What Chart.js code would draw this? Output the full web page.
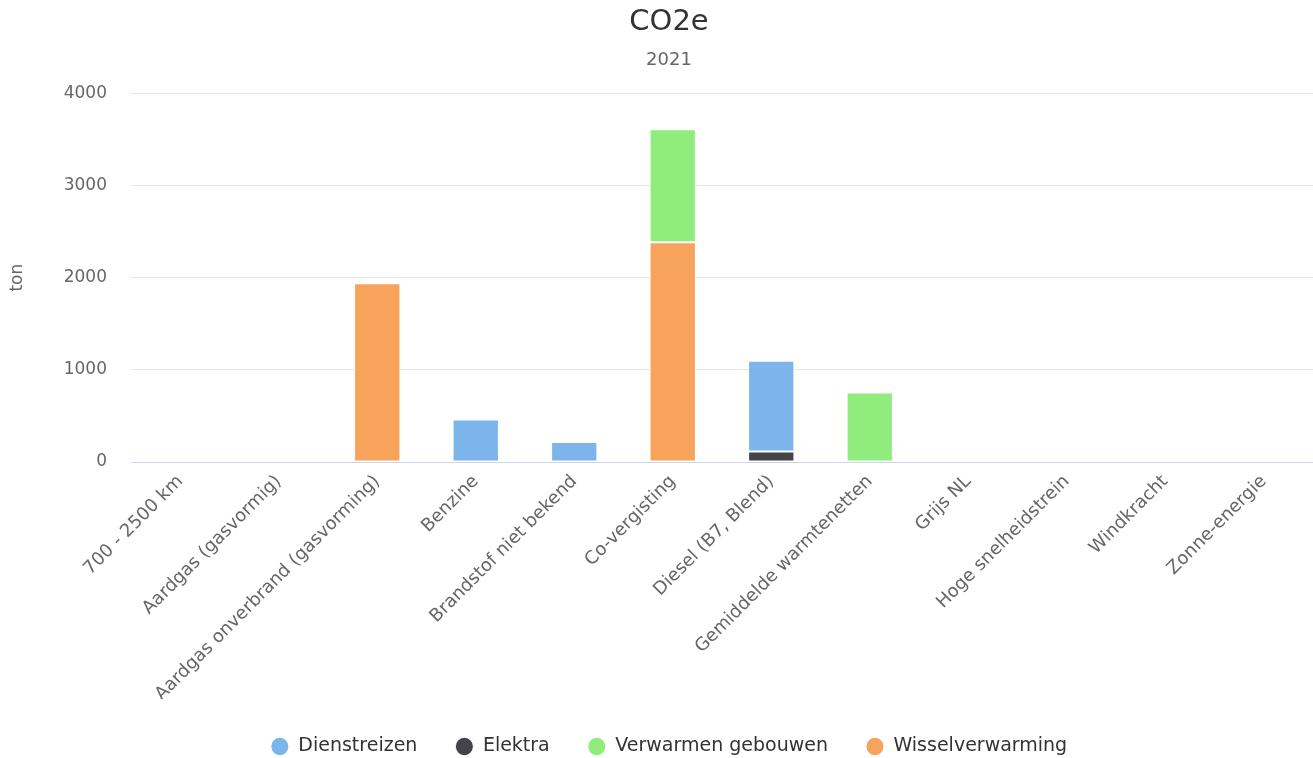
<!DOCTYPE html>
<html>
<head>
<meta charset="utf-8">
<script src="https://cdn.jsdelivr.net/npm/chart.js@4/dist/chart.umd.min.js"></script>
<style>
  html, body { margin: 0; padding: 0; background: #ffffff; }
  #wrap { width: 1313px; height: 758px; }
</style>
</head>
<body>
<div id="wrap"><canvas id="chart" width="1313" height="758"></canvas></div>
<script>
// Energy sources / fuels on the x axis
const categories = [
  '700 - 2500 km',
  'Aardgas (gasvormig)',
  'Aardgas onverbrand (gasvorming)',
  'Benzine',
  'Brandstof niet bekend',
  'Co-vergisting',
  'Diesel (B7, Blend)',
  'Gemiddelde warmtenetten',
  'Grijs NL',
  'Hoge snelheidstrein',
  'Windkracht',
  'Zonne-energie'
];

// CO2e in ton per emission group (null = no value)
const dienstreizen      = [null, null, null, 460, 217, null, 985, null, null, null, null, null];
const elektra           = [null, null, null, null, null, null, 115, null, null, null, null, null];
const verwarmenGebouwen = [null, null, null, null, null, 1225, null, 755, null, null, null, null];
const wisselverwarming  = [null, null, 1940, null, null, 2385, null, null, null, null, null, null];

const yTicks = [0, 1000, 2000, 3000, 4000];

const FONT = "'DejaVu Sans', Verdana, sans-serif";

// Datasets listed bottom-of-stack first; the legend is shown reversed
const datasets = [
  { label: 'Wisselverwarming', data: wisselverwarming, backgroundColor: '#f7a35c' },
  { label: 'Verwarmen gebouwen', data: verwarmenGebouwen, backgroundColor: '#90ed7d' },
  { label: 'Elektra', data: elektra, backgroundColor: '#434348' },
  { label: 'Dienstreizen', data: dienstreizen, backgroundColor: '#7cb5ec' }
].map(d => Object.assign(d, {
  borderColor: '#ffffff',
  borderWidth: 1,
  borderSkipped: false,
  categoryPercentage: 1,
  barPercentage: 0.47
}));

// Nudge the centred header and legend blocks slightly to the right
const centreShift = {
  id: 'centreShift',
  afterLayout(chart) {
    const dx = 12.5;
    chart.boxes.forEach(b => {
      if (!(b instanceof Chart.Scale) && (b.position === 'top' || b.position === 'bottom')) {
        b.left += dx;
        b.right += dx;
      }
    });
  }
};

new Chart(document.getElementById('chart'), {
  type: 'bar',
  data: { labels: categories, datasets: datasets },
  plugins: [centreShift],
  options: {
    responsive: false,
    animation: false,
    layout: { padding: { left: 0, right: 0, top: 0, bottom: -8 } },
    plugins: {
      title: {
        display: true,
        text: 'CO2e',
        color: '#333333',
        font: { family: FONT, size: 29, weight: 'normal' },
        padding: { top: 5, bottom: 10 }
      },
      subtitle: {
        display: true,
        text: '2021',
        color: '#666666',
        font: { family: FONT, size: 18, weight: 'normal' },
        padding: { top: 0, bottom: 22 }
      },
      legend: {
        position: 'bottom',
        reverse: true,
        labels: {
          usePointStyle: true,
          pointStyle: 'circle',
          pointStyleWidth: 18,
          boxHeight: 13,
          color: '#333333',
          font: { family: FONT, size: 19 },
          padding: 38
        }
      },
      tooltip: { enabled: false }
    },
    scales: {
      x: {
        stacked: true,
        afterFit: s => { s.height = 237; },
        grid: { display: false, drawTicks: false },
        border: { display: true, color: '#ccd6eb', width: 1 },
        ticks: {
          autoSkip: false,
          minRotation: 45,
          maxRotation: 45,
          color: '#666666',
          padding: 9,
          font: { family: FONT, size: 18 }
        }
      },
      y: {
        stacked: true,
        min: 0,
        max: 4000,
        afterBuildTicks: s => { s.ticks = yTicks.map(v => ({ value: v })); },
        afterFit: s => { s.width = 131; },
        grid: { color: '#e6e6e6', drawTicks: false },
        border: { display: false },
        ticks: {
          color: '#666666',
          padding: 24,
          font: { family: FONT, size: 17 },
          callback: v => String(v)
        },
        title: {
          display: true,
          text: 'ton',
          color: '#666666',
          font: { family: FONT, size: 17 },
          padding: { top: 7, bottom: 0 }
        }
      }
    }
  }
});
</script>
</body>
</html>
